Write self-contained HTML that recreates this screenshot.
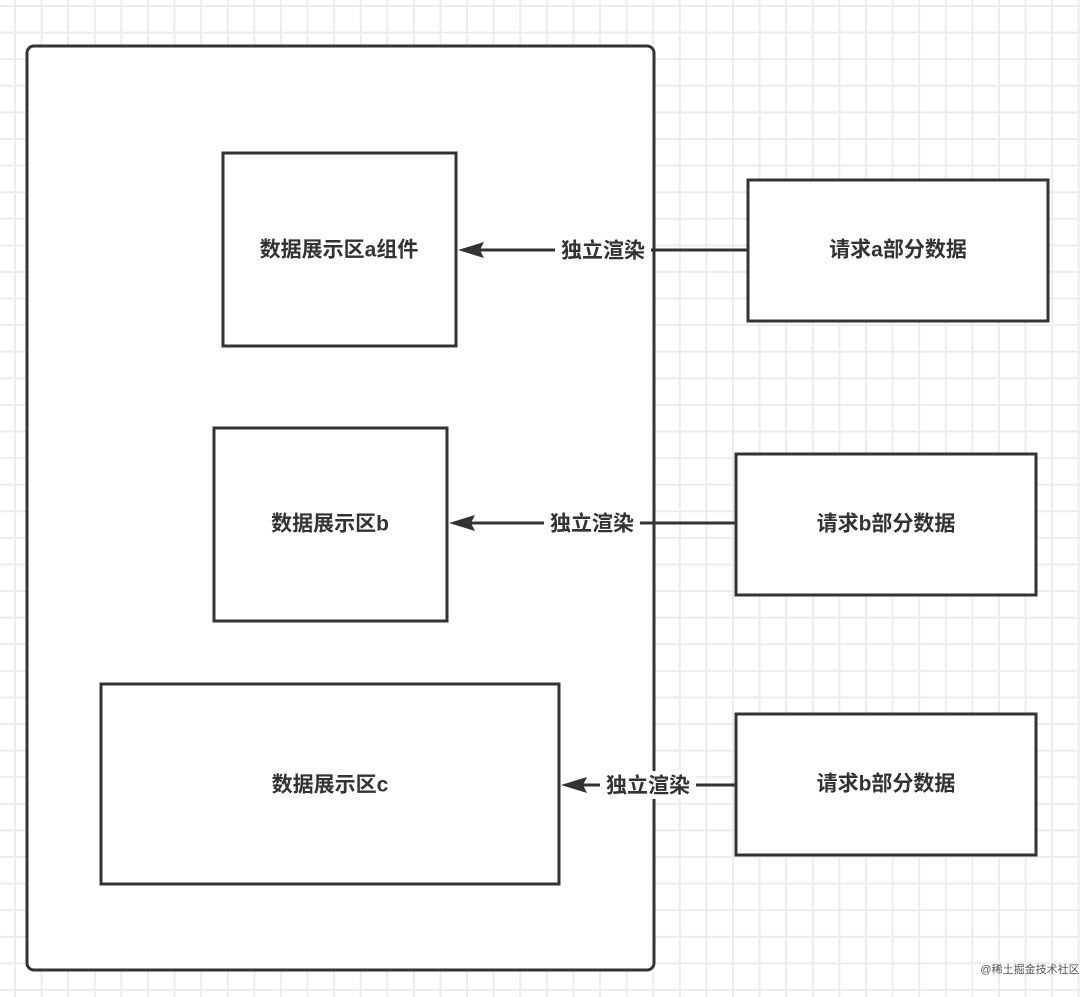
<!DOCTYPE html>
<html><head><meta charset="utf-8"><style>
html,body{margin:0;padding:0;}
body{width:1080px;height:997px;overflow:hidden;background:#fff;
background-image:linear-gradient(to right,#ececec 2px,transparent 2px),linear-gradient(to bottom,#ececec 2px,transparent 2px);
background-size:26.6px 26.6px;background-position:14px 5px;}
svg{position:absolute;left:0;top:0;}
text{font-family:"Liberation Sans","Noto Sans CJK SC",sans-serif;font-weight:bold;fill:#333;font-size:21px;text-anchor:middle;dominant-baseline:central;}
</style></head><body>
<svg width="1080" height="997" viewBox="0 0 1080 997">
<g fill="#fff" stroke="#333" stroke-width="3">
<rect x="27" y="46" width="627" height="924" rx="7"/>
<rect x="223" y="153" width="233" height="193"/>
<rect x="214" y="428" width="233" height="193"/>
<rect x="101" y="684" width="458" height="200"/>
<rect x="748" y="180" width="300" height="141"/>
<rect x="736" y="454" width="300" height="141"/>
<rect x="736" y="714" width="300" height="141"/>
</g>
<g stroke="#333" stroke-width="3">
<line x1="480" y1="250" x2="748" y2="250"/>
<line x1="471" y1="523" x2="736" y2="523"/>
<line x1="583" y1="785" x2="736" y2="785"/>
</g>
<g fill="#333">
<polygon points="458,250 484,242 480,250 484,258"/>
<polygon points="449,523 475,515 471,523 475,531"/>
<polygon points="561,785 587,777 583,785 587,793"/>
</g>
<g fill="#fff">
<rect x="555" y="236" width="96" height="28"/>
<rect x="544" y="509" width="96" height="28"/>
<rect x="600" y="771" width="96" height="28"/>
</g>
<text x="603" y="251">独立渲染</text>
<text x="592" y="524">独立渲染</text>
<text x="648" y="786">独立渲染</text>
<text x="339" y="250">数据展示区a组件</text>
<text x="330" y="524">数据展示区b</text>
<text x="330" y="785">数据展示区c</text>
<text x="898" y="250">请求a部分数据</text>
<text x="886" y="524">请求b部分数据</text>
<text x="886" y="784">请求b部分数据</text>
<text x="1030" y="970" style="font-size:11px;font-weight:normal;fill:#555">@稀土掘金技术社区</text>
</svg>
</body></html>
